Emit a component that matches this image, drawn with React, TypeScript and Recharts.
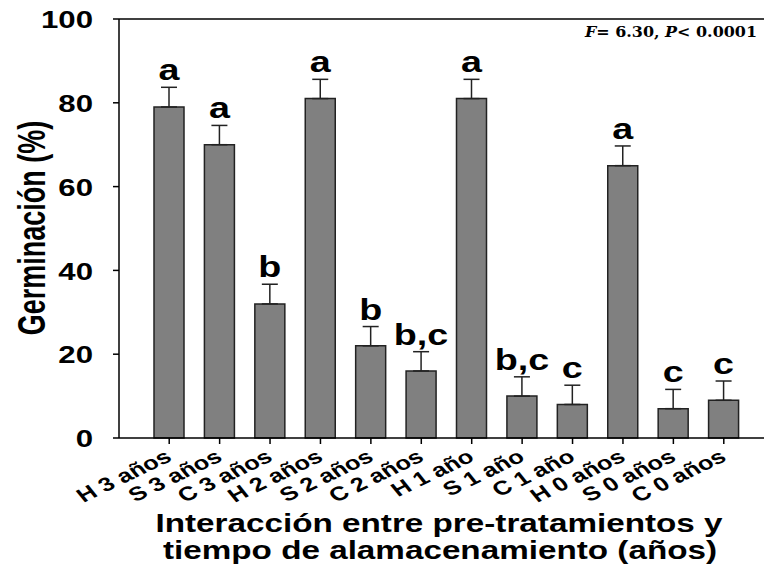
import { BarChart, Bar, XAxis, YAxis, ErrorBar, LabelList, ReferenceLine } from 'recharts';

const categories = [
  'H 3 años', 'S 3 años', 'C 3 años', 'H 2 años', 'S 2 años', 'C 2 años',
  'H 1 año', 'S 1 año', 'C 1 año', 'H 0 años', 'S 0 años', 'C 0 años',
];
const germination = [79, 70, 32, 81, 22, 16, 81, 10, 8, 65, 7, 9];
const errors = [4.7, 4.6, 4.7, 4.6, 4.6, 4.6, 4.6, 4.6, 4.6, 4.7, 4.6, 4.6];
const letters = ['a', 'a', 'b', 'a', 'b', 'b,c', 'a', 'b,c', 'c', 'a', 'c', 'c'];
const yTicks = [0, 20, 40, 60, 80, 100];

// one-sided (upward) error bars: [lower, upper]
const data = categories.map((name, i) => ({
  name,
  value: germination[i],
  err: [0, errors[i]],
  letter: letters[i],
}));

const SANS = '"Liberation Sans", Arial, sans-serif';
// the source figure is stretched horizontally, so glyphs get scaled in x
const SX = 1.3;

function YTick({ x, y, payload }: any) {
  return (
    <text
      transform={`translate(${x},${y}) scale(${SX},1)`}
      textAnchor="end"
      dy="0.38em"
      fontSize={24}
      fontWeight="bold"
      fontFamily={SANS}
      fill="#000"
    >
      {payload.value}
    </text>
  );
}

function XTick({ x, y, payload }: any) {
  return (
    <text
      transform={`translate(${x + 4},${y + 16}) scale(${SX},1) rotate(-32)`}
      textAnchor="end"
      fontSize={19.5}
      fontWeight="bold"
      fontFamily={SANS}
      fill="#000"
    >
      {payload.value}
    </text>
  );
}

// letter sits above the error bar cap
function Letter({ x, y, width, height, value, index }: any) {
  const errPx = (errors[index] * height) / germination[index];
  const cx = x + width / 2;
  const base = y - errPx - 7;
  return (
    <text
      transform={`translate(${cx},${base}) scale(${SX},1)`}
      textAnchor="middle"
      fontSize={29}
      fontWeight="bold"
      fontFamily={SANS}
      fill="#000"
    >
      {value}
    </text>
  );
}

export default function App() {
  return (
    <div style={{ position: 'fixed', left: 0, top: 0, width: 764, height: 575, background: '#fff' }}>
      <BarChart
        width={764}
        height={575}
        data={data}
        margin={{ top: 19, right: 0, left: 0, bottom: 0 }}
      >
        <XAxis
          dataKey="name"
          type="category"
          height={137}
          padding={{ left: 25, right: 15 }}
          interval={0}
          stroke="#000"
          strokeWidth={1.5}
          tickSize={6}
          tickMargin={0}
          tick={<XTick />}
        />
        <YAxis
          width={119}
          domain={[0, 100]}
          ticks={yTicks}
          stroke="#000"
          strokeWidth={1.5}
          tickSize={6}
          tickMargin={20}
          tick={<YTick />}
        />
        <ReferenceLine y={100} stroke="#000" strokeWidth={1.5} />
        <Bar
          dataKey="value"
          barSize={30}
          fill="#808080"
          stroke="#222"
          strokeWidth={1.5}
          isAnimationActive={false}
        >
          <ErrorBar dataKey="err" width={8} stroke="#222" strokeWidth={1.5} />
          <LabelList dataKey="letter" content={<Letter />} />
        </Bar>
      </BarChart>

      <svg
        width={764}
        height={575}
        style={{ position: 'absolute', left: 0, top: 0, pointerEvents: 'none' }}
      >
        <text
          transform="translate(45,228) scale(1.45,1) rotate(-90)"
          textAnchor="middle"
          fontSize={27}
          fontWeight="bold"
          fontFamily={SANS}
          fill="#000"
        >
          Germinación (%)
        </text>
        <g fontSize={25} fontWeight="bold" fontFamily={SANS} fill="#000" textAnchor="middle">
          <text transform="translate(439,532) scale(1.33,1)">Interacción entre pre-tratamientos y</text>
          <text transform="translate(440,559) scale(1.33,1)">tiempo de alamacenamiento (años)</text>
        </g>
        <text
          x={585}
          y={37}
          textLength={172}
          lengthAdjust="spacingAndGlyphs"
          fontSize={15}
          fontWeight="bold"
          fontFamily='"DejaVu Serif", "Liberation Serif", serif'
          fill="#000"
        >
          <tspan fontStyle="italic">F</tspan>= 6.30, <tspan fontStyle="italic">P</tspan>&lt; 0.0001
        </text>
      </svg>
    </div>
  );
}
